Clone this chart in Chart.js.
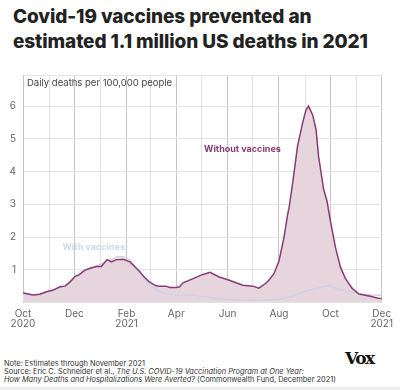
<!DOCTYPE html>
<html>
<head>
<meta charset="utf-8">
<script src="https://cdn.jsdelivr.net/npm/chart.js@4/dist/chart.umd.min.js"></script>
<style>
  html, body { margin:0; padding:0; background:#fff; }
  body { width:400px; height:390px; position:relative; overflow:hidden; font-family: Inter, "Noto Sans", sans-serif; }
  #title { position:absolute; left:13px; top:4px; font-size:19px; font-weight:800; line-height:25px; color:#222; letter-spacing:-0.1px; }
  #wrap { position:absolute; left:0; top:62px; width:400px; height:275px; }
  #foot { position:absolute; left:4px; top:360px; font-size:7.4px; line-height:8px; color:#333; }
  #logo { position:absolute; left:345px; top:348px; font-family:"DejaVu Serif", serif; font-weight:900; font-size:17px; letter-spacing:-1.5px; color:#111; }
  #bar { position:absolute; left:0; top:387px; width:400px; height:3px; background:#eee; }
</style>
</head>
<body>
<div id="title">Covid-19 vaccines prevented an<br>estimated 1.1 million US deaths in 2021</div>
<div id="wrap"><canvas id="c"></canvas></div>
<div id="foot">Note: Estimates through November 2021<br>Source: Eric C. Schneider et al., <i>The U.S. COVID-19 Vaccination Program at One Year:</i><br><i>How Many Deaths and Hospitalizations Were Averted?</i> (Commonwealth Fund, December 2021)</div>
<div id="logo">Vox</div>
<div id="bar"></div>
<script>
// days since Oct 1, 2020
const monthStarts = [0,31,61,92,123,151,182,212,243,273,304,335,365,396,426];
const tickLabels = {0:['Oct','2020'],61:'Dec',123:['Feb','2021'],182:'Apr',243:'Jun',304:'Aug',365:'Oct',426:['Dec','2021']};
const yTicks = [0,1,2,3,4,5,6];

const withoutDays = [0,12,20,28,36,44,50,56,62,67,73,79,87,93,100,105,111,119,127,135,138,144,150,158,162,170,174,182,186,190,202,213,222,233,245,261,273,280,288,292,298,304,310,314,316,320,326,332,336,339,344,348,351,357,361,365,371,377,383,391,399,411,422,426];
const withoutValues = [0.29,0.23,0.25,0.33,0.38,0.48,0.50,0.63,0.80,0.85,0.98,1.04,1.10,1.10,1.31,1.24,1.31,1.32,1.24,1.04,0.96,0.78,0.63,0.51,0.50,0.50,0.46,0.46,0.48,0.60,0.73,0.85,0.92,0.78,0.68,0.53,0.50,0.44,0.58,0.68,0.88,1.27,2.00,2.65,2.90,3.60,4.77,5.48,5.88,6.00,5.73,5.28,4.47,3.46,3.10,2.50,1.69,1.08,0.73,0.43,0.26,0.20,0.13,0.12];

const withDays = [0,12,20,28,36,44,50,56,62,67,73,79,87,93,100,105,111,119,127,135,144,150,158,166,174,182,190,202,213,225,240,256,273,288,304,320,336,348,359,365,375,388,399,414,426];
const withValues = [0.29,0.23,0.25,0.33,0.38,0.48,0.50,0.63,0.80,0.85,0.98,1.04,1.12,1.17,1.30,1.30,1.39,1.40,1.30,1.00,0.73,0.55,0.40,0.30,0.25,0.23,0.22,0.22,0.18,0.14,0.10,0.08,0.07,0.08,0.10,0.18,0.36,0.43,0.50,0.50,0.40,0.33,0.26,0.23,0.22];

const zip = (xs, ys) => xs.map((x,i) => ({x, y: ys[i]}));

const PURPLE = '#8a3b73';
const FILL = '#e7d5de';
const LIGHT = '#ccd2e3';

const textPlugin = {
  id: 'texts',
  afterDatasetsDraw(chart) {
    const {ctx, chartArea, scales:{x, y}} = chart;
    ctx.save();
    ctx.font = '9.5px Inter, "Noto Sans", sans-serif';
    ctx.fillStyle = '#444';
    ctx.textBaseline = 'middle';
    ctx.textAlign = 'left';
    ctx.fillText('Daily deaths per 100,000 people', chartArea.left + 4, chartArea.top + 8);
    ctx.font = 'bold 9px Inter, "Noto Sans", sans-serif';
    ctx.fillStyle = PURPLE;
    ctx.fillText('Without vaccines', x.getPixelForValue(215), y.getPixelForValue(4.68));
    ctx.fillStyle = '#cfd9e8';
    ctx.textAlign = 'center';
    ctx.fillText('With vaccines', x.getPixelForValue(84), y.getPixelForValue(1.68));
    ctx.restore();
  }
};

new Chart(document.getElementById('c'), {
  type: 'line',
  data: {
    datasets: [
      { data: zip(withoutDays, withoutValues), showLine: true, borderWidth: 0, borderColor: 'rgba(0,0,0,0)', backgroundColor: FILL, fill: 'origin', pointRadius: 0, order: 3 },
      { data: zip(withDays, withValues), borderColor: LIGHT, borderWidth: 1.5, fill: false, pointRadius: 0, order: 2 },
      { data: zip(withoutDays, withoutValues), borderColor: PURPLE, borderWidth: 1.5, fill: false, pointRadius: 0, order: 1 }
    ]
  },
  options: {
    responsive: true,
    maintainAspectRatio: false,
    animation: false,
    events: [],
    layout: { padding: { top: 11, right: 17, left: 0, bottom: 0 } },
    plugins: { legend: { display: false }, tooltip: { enabled: false } },
    scales: {
      x: {
        type: 'linear', min: 0, max: 426,
        afterBuildTicks: s => { s.ticks = monthStarts.map(v => ({value: v})); },
        afterFit: s => { s.height = 34.5; },
        ticks: {
          autoSkip: false, maxRotation: 0, padding: 7,
          color: '#666', font: { family: 'Inter, "Noto Sans", sans-serif', size: 10, lineHeight: 0.95 },
          callback: v => (tickLabels[v] !== undefined ? tickLabels[v] : '')
        },
        grid: {
          drawTicks: false,
          color: c => (c.tick && tickLabels[c.tick.value] !== undefined ? '#c6c6c6' : '#e2e2e2'),
          lineWidth: 1
        },
        border: { display: false }
      },
      y: {
        min: 0, max: 6.95,
        afterBuildTicks: s => { s.ticks = yTicks.concat([6.95]).map(v => ({value: v})); },
        afterFit: s => { s.width = 23; },
        ticks: {
          padding: 7, color: '#666', font: { family: 'Inter, "Noto Sans", sans-serif', size: 10 },
          callback: v => (v >= 1 && v <= 6 ? String(v) : '')
        },
        grid: { drawTicks: false, color: '#e4e4e4', lineWidth: 1 },
        border: { display: true, color: '#c6c6c6' }
      }
    }
  },
  plugins: [textPlugin]
});
</script>
</body>
</html>
